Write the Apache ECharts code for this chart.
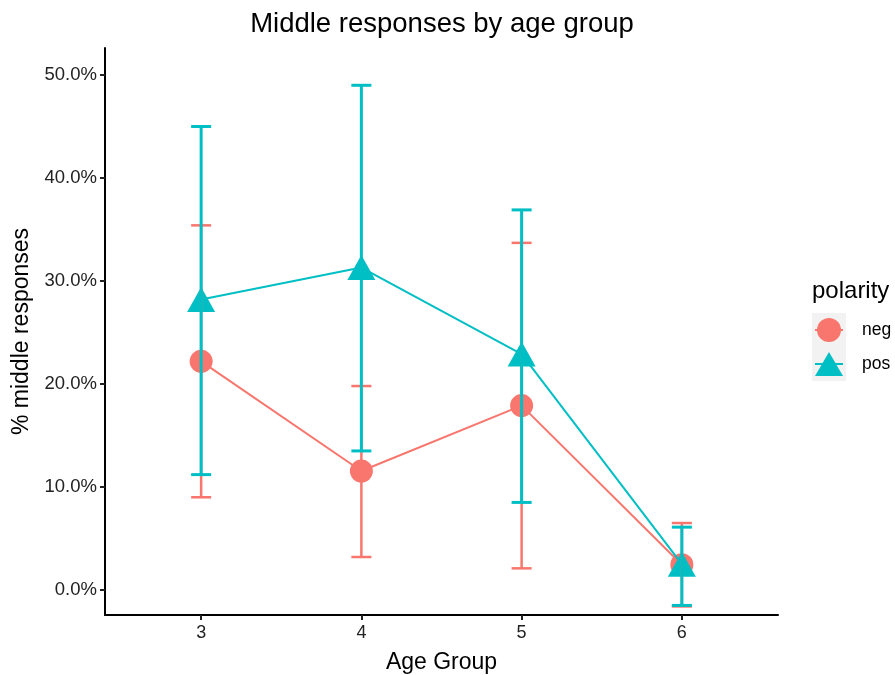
<!DOCTYPE html>
<html>
<head>
<meta charset="utf-8">
<script src="https://cdn.jsdelivr.net/npm/echarts@6/dist/echarts.min.js"></script>
<style>html,body{margin:0;padding:0;background:#fff}#c{width:895px;height:675px}</style>
</head>
<body>
<div id="c"></div>
<script>
// ---- data ----
const ageGroups = [3, 4, 5, 6];
const negMean = [22.2, 11.55, 17.9, 2.45];
const negLow  = [9.0, 3.2, 2.1, -1.6];
const negHigh = [35.4, 19.8, 33.7, 6.5];
const posMean = [28.2, 31.3, 22.9, 2.5];
const posLow  = [11.2, 13.5, 8.5, -1.5];
const posHigh = [45.0, 49.0, 36.9, 6.1];
const yTicks = [0, 10, 20, 30, 40, 50];
const legendNames = ['neg', 'pos'];

const NEG = '#F8766D', POS = '#00BFC4';
const FONT = '"Liberation Sans", Arial, sans-serif';

function errData(low, high) {
  return ageGroups.map((a, i) => [a, low[i], high[i]]);
}
function errRender(color, lw) {
  return function (params, api) {
    const x = api.value(0), lo = api.value(1), hi = api.value(2);
    const pLo = api.coord([x, lo]), pHi = api.coord([x, hi]);
    const hw = api.size([0.125, 0])[0] / 2;
    const st = { stroke: color, lineWidth: lw, fill: null };
    return {
      type: 'group',
      children: [
        { type: 'line', shape: { x1: pLo[0], y1: pLo[1], x2: pHi[0], y2: pHi[1] }, style: st },
        { type: 'line', shape: { x1: pLo[0] - hw, y1: pLo[1], x2: pLo[0] + hw, y2: pLo[1] }, style: st },
        { type: 'line', shape: { x1: pHi[0] - hw, y1: pHi[1], x2: pHi[0] + hw, y2: pHi[1] }, style: st }
      ]
    };
  };
}

const chart = echarts.init(document.getElementById('c'), null, { renderer: 'canvas' });
chart.setOption({
  backgroundColor: '#fff',
  animation: false,
  textStyle: { fontFamily: FONT },
  title: {
    text: 'Middle responses by age group',
    left: 442, top: 10, textAlign: 'center', padding: 0,
    textStyle: { fontFamily: FONT, fontSize: 27.5, fontWeight: 'normal', color: '#000' }
  },
  grid: { left: 105, right: 117, top: 48, bottom: 60, outerBoundsMode: 'none', containLabel: false },
  xAxis: {
    type: 'value', min: 2.4, max: 6.6,
    name: 'Age Group', nameLocation: 'middle', nameGap: 36,
    nameTextStyle: { fontFamily: FONT, fontSize: 23, color: '#000' },
    splitLine: { show: false },
    axisLine: { show: true, onZero: false, lineStyle: { color: '#000', width: 2 } },
    axisTick: { show: true, length: 5, lineStyle: { color: '#222', width: 2 }, customValues: ageGroups },
    axisLabel: { customValues: ageGroups, fontSize: 18, color: '#222', margin: 9, fontFamily: FONT }
  },
  yAxis: {
    type: 'value', min: -2.43, max: 52.62,
    name: '% middle responses', nameLocation: 'middle', nameGap: 71, nameRotate: 90,
    nameTextStyle: { fontFamily: FONT, fontSize: 23, color: '#000' },
    splitLine: { show: false },
    axisLine: { show: true, onZero: false, lineStyle: { color: '#000', width: 2 } },
    axisTick: { show: true, length: 5, lineStyle: { color: '#222', width: 2 }, customValues: yTicks },
    axisLabel: { customValues: yTicks, fontSize: 18.5, color: '#222', margin: 8, fontFamily: FONT,
      formatter: v => v.toFixed(1) + '%' }
  },
  legend: {
    orient: 'vertical', left: 815, top: 318, itemGap: 10, padding: 0,
    itemWidth: 28, itemHeight: 24,
    textStyle: { fontFamily: FONT, fontSize: 17.5, color: '#000', padding: [0, 0, 0, 14] },
    data: [
      { name: legendNames[0], icon: 'circle' },
      { name: legendNames[1], icon: 'triangle' }
    ],
    z: 10
  },
  graphic: [
    { type: 'text', left: 812, top: 279, z: 5,
      style: { text: 'polarity', fontFamily: FONT, fontSize: 24, fill: '#000' } },
    { type: 'rect', shape: { x: 812, y: 313, width: 34, height: 34 }, style: { fill: '#F2F2F2' }, z: 0 },
    { type: 'rect', shape: { x: 812, y: 347, width: 34, height: 34 }, style: { fill: '#F2F2F2' }, z: 0 },
    { type: 'line', shape: { x1: 815, y1: 330, x2: 843, y2: 330 }, style: { stroke: NEG, lineWidth: 2 }, z: 1 },
    { type: 'line', shape: { x1: 815, y1: 364, x2: 843, y2: 364 }, style: { stroke: POS, lineWidth: 2 }, z: 1 }
  ],
  series: [
    { name: 'neg', type: 'line', data: ageGroups.map((a, i) => [a, negMean[i]]),
      symbol: 'circle', symbolSize: 23, color: NEG, z: 2,
      lineStyle: { color: NEG, width: 2 }, itemStyle: { color: NEG } },
    { name: 'pos', type: 'line', data: ageGroups.map((a, i) => [a, posMean[i]]),
      symbol: 'triangle', symbolSize: [28, 25], color: POS, z: 3,
      lineStyle: { color: POS, width: 2 }, itemStyle: { color: POS } },
    { name: 'negErr', type: 'custom', data: errData(negLow, negHigh), renderItem: errRender(NEG, 2.5),
      z: 4, encode: { x: 0, y: [1, 2] } },
    { name: 'posErr', type: 'custom', data: errData(posLow, posHigh), renderItem: errRender(POS, 3),
      z: 5, encode: { x: 0, y: [1, 2] } }
  ]
});
</script>
</body>
</html>
